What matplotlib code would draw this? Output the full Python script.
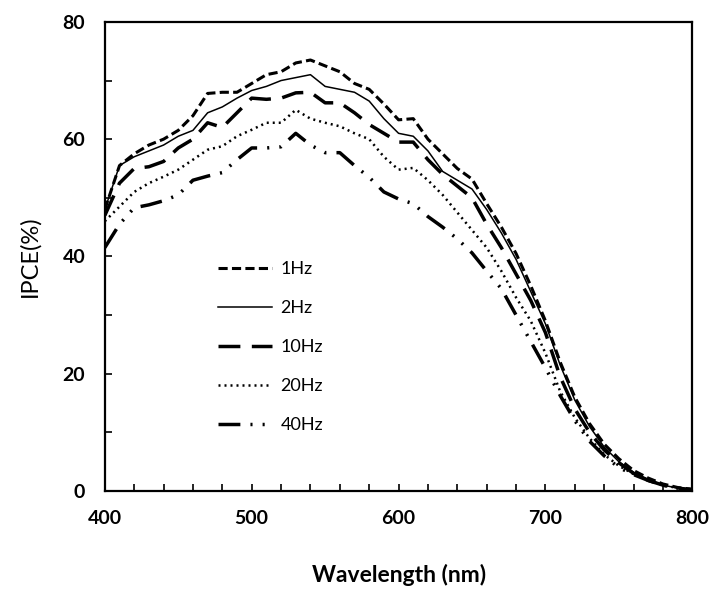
import numpy as np
import matplotlib
matplotlib.use("Agg")
import matplotlib.pyplot as plt
from matplotlib.ticker import MultipleLocator

plt.rcParams['font.family'] = ['Lato', 'DejaVu Sans']

## 数据
wavelength = np.arange(400, 801, 10)

ipce_1hz = [48, 55.5, 57.5, 59, 60, 61.5, 64, 67.8, 68, 68, 69.5, 71, 71.5, 73, 73.5,
            72.5, 71.5, 69.5, 68.5, 66, 63.3, 63.5, 60, 57.5, 55, 53.2, 49, 45, 40.5,
            35, 29, 22, 16, 11.5, 8, 5.5, 3.5, 2.2, 1.2, 0.6, 0.3]
ipce_2hz = [48, 55.5, 57, 58, 59, 60.5, 61.5, 64.5, 65.5, 67, 68.3, 69, 70, 70.5, 71,
            69, 68.5, 68, 66.5, 63.5, 61, 60.5, 58, 54.5, 53, 51.5, 48, 44, 39.5,
            34, 28.5, 21.5, 15.5, 11, 7.5, 5, 3.2, 2, 1, 0.5, 0.2]
ipce_10hz = [47, 52.5, 55, 55.3, 56.2, 58.5, 60, 62.8, 62, 64.5, 67, 66.8, 67, 67.9, 68,
             66.2, 66.2, 64.5, 62.5, 61, 59.5, 59.5, 56.5, 54, 52, 50, 45.5, 41.5, 37,
             32.5, 27, 19.5, 14, 10, 7, 4.8, 3, 1.8, 1, 0.5, 0.2]
ipce_20hz = [46, 48.5, 51, 52.5, 53.6, 54.8, 56.5, 58.2, 58.8, 60.5, 61.6, 62.8, 62.8,
             65, 63.5, 62.8, 62.2, 61, 60, 57, 54.8, 55.1, 53, 50.5, 47.5, 44.5, 41.5,
             37.5, 33, 29, 23.5, 17, 12.5, 9, 6.2, 4.3, 2.9, 1.8, 1, 0.5, 0.2]
ipce_40hz = [41.5, 45.5, 48.3, 48.8, 49.5, 50.5, 53, 53.7, 54.3, 56.5, 58.5, 58.5, 58.7,
             61, 59, 57.7, 57.7, 55.5, 53.5, 51, 49.8, 49, 46.8, 45, 43, 40.6, 37.5, 34.5,
             30, 25.5, 21, 16.3, 12, 8.5, 6, 4, 2.8, 1.8, 1, 0.5, 0.2]

fig = plt.figure(figsize=(7.13, 5.92), dpi=100)
ax = fig.add_axes([0.147, 0.1706, 0.824, 0.7924])

ax.plot(wavelength, ipce_1hz, color="black", lw=2.2, linestyle=(0, (3.0, 1.4)), label="1Hz")
ax.plot(wavelength, ipce_2hz, color="black", lw=1.1, linestyle="-", label="2Hz")
ax.plot(wavelength, ipce_10hz, color="black", lw=2.5, linestyle=(0, (6.3, 3.3)), label="10Hz")
ax.plot(wavelength, ipce_20hz, color="black", lw=1.8, linestyle=(0, (0.8, 1.6)), label="20Hz")
ax.plot(wavelength, ipce_40hz, color="black", lw=2.5,
        linestyle=(0, (6.3, 2.9, 0.6, 2.9, 0.6, 2.9)), label="40Hz")

ax.set_xlim(400, 800)
ax.set_ylim(0, 80)
ax.xaxis.set_major_locator(MultipleLocator(100))
ax.xaxis.set_minor_locator(MultipleLocator(20))
ax.yaxis.set_major_locator(MultipleLocator(20))
ax.yaxis.set_minor_locator(MultipleLocator(10))
ax.tick_params(which="both", direction="in", top=False, right=False, width=1.2)
ax.tick_params(which="major", length=5, labelsize=14, pad=14)
ax.tick_params(which="minor", length=5)
for lab in ax.get_xticklabels() + ax.get_yticklabels():
    lab.set_fontweight("bold")
for s in ax.spines.values():
    s.set_linewidth(1.6)

ax.set_xlabel("Wavelength (nm)", fontsize=16.5, fontweight="bold", labelpad=26)
ax.set_ylabel("IPCE(%)", fontsize=17, labelpad=16)

ax.legend(loc="upper left", bbox_to_anchor=(0.165, 0.525), frameon=False,
          fontsize=13, handlelength=3.0, handletextpad=0.45, labelspacing=1.28)

plt.savefig("out.png", dpi=100)
